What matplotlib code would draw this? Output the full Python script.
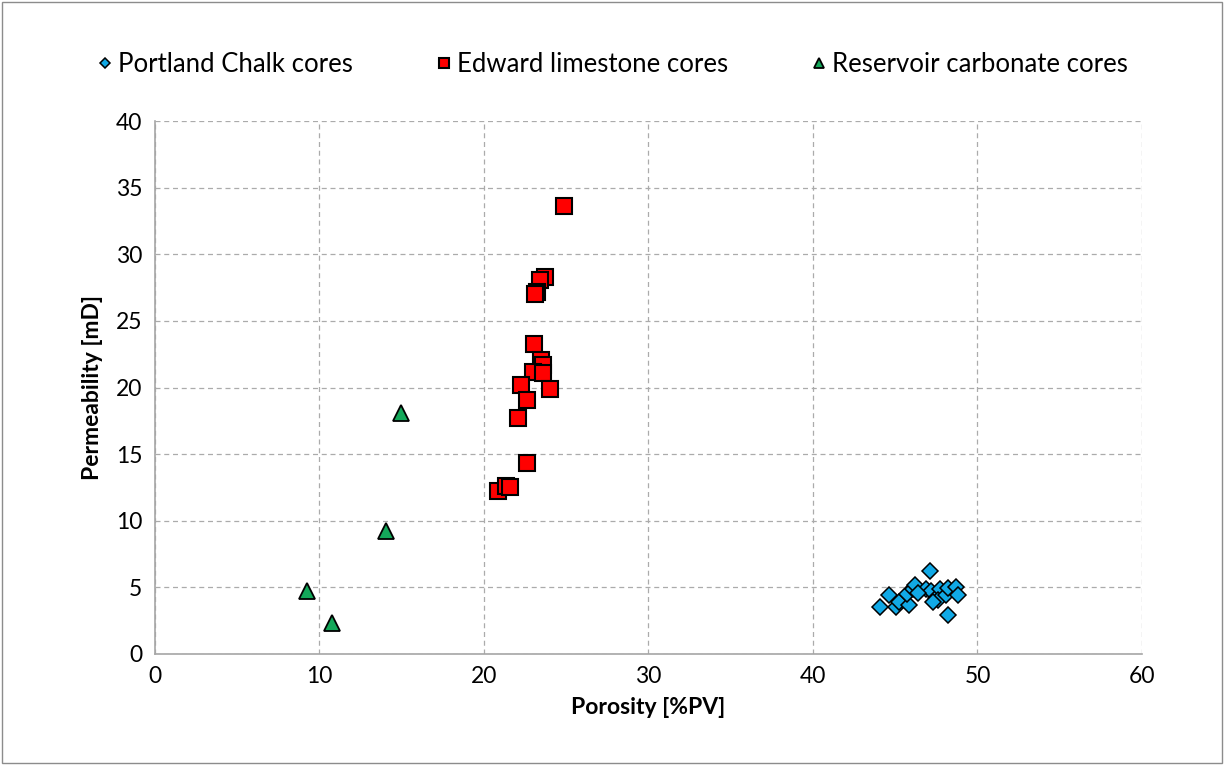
import matplotlib
matplotlib.use("Agg")
import matplotlib.pyplot as plt

plt.rcParams['font.family'] = ['Lato', 'DejaVu Sans']

# Porosity [%PV] / permeability [mD] per core
chalk_poro = [44.1, 44.6, 45.05, 45.25, 45.85, 45.7, 46.1, 46.2, 47.1, 46.9,
              47.2, 47.5, 47.7, 47.6, 48.1, 48.2, 48.2, 48.7, 48.8, 46.4, 47.3]
chalk_perm = [3.55, 4.4, 3.55, 3.9, 3.7, 4.5, 4.9, 5.2, 6.2, 4.9,
              4.7, 4.2, 4.9, 4.05, 4.4, 4.95, 2.9, 5.05, 4.4, 4.55, 3.9]

edward_poro = [24.85, 23.7, 23.4, 23.2, 23.1, 23.06, 23.45, 23.57, 22.96,
               23.6, 24.0, 22.23, 22.63, 22.05, 22.63, 20.87, 21.34, 21.6]
edward_perm = [33.6, 28.3, 28.1, 27.2, 27.0, 23.3, 22.1, 21.7, 21.2,
               21.07, 19.9, 20.2, 19.1, 17.7, 14.3, 12.25, 12.6, 12.55]

reservoir_poro = [9.24, 10.76, 14.04, 14.95]
reservoir_perm = [4.73, 2.33, 9.23, 18.09]

fig = plt.figure(figsize=(12.24, 7.65), dpi=100)
ax = fig.add_axes([0.1266, 0.1451, 0.8064, 0.6967])

ax.plot(chalk_poro, chalk_perm, linestyle='none', marker='D', markersize=8.5,
        markerfacecolor='#11A9E6', markeredgecolor='black', markeredgewidth=1.1,
        label='Portland Chalk cores', zorder=3)
ax.plot(edward_poro, edward_perm, linestyle='none', marker='s', markersize=11.5,
        markerfacecolor='#FF0000', markeredgecolor='black', markeredgewidth=1.5,
        label='Edward limestone cores', zorder=3)
ax.plot(reservoir_poro, reservoir_perm, linestyle='none', marker='^', markersize=12,
        markerfacecolor='#14A85A', markeredgecolor='black', markeredgewidth=1.3,
        label='Reservoir carbonate cores', zorder=3)

ax.set_xlim(0, 60)
ax.set_ylim(0, 40)
ax.set_xticks(range(0, 61, 10))
ax.set_yticks(range(0, 41, 5))
ax.grid(True, color='#ABABAB', linestyle=(0, (4, 3)), linewidth=0.9)
ax.set_axisbelow(True)
ax.tick_params(length=0, labelsize=16.5, pad=9)

for side in ['top', 'right']:
    ax.spines[side].set_visible(False)
for side in ['left', 'bottom']:
    ax.spines[side].set_color('#A6A6A6')
    ax.spines[side].set_linewidth(1.2)

ax.set_xlabel('Porosity [%PV]', fontsize=16.5, fontweight='bold', labelpad=7)
ax.set_ylabel('Permeability [mD]', fontsize=16.5, fontweight='bold', labelpad=9)

fig.legend(loc='center', bbox_to_anchor=(0.5, 0.916), ncol=3, frameon=False,
           fontsize=18.5, markerscale=0.6, handletextpad=0.15, columnspacing=3.2,
           handlelength=0.7)

# thin outer frame around the chart area
fig.patches.append(plt.Rectangle((0.002, 0.002), 0.996, 0.996, transform=fig.transFigure,
                                 fill=False, edgecolor='#8C8C8C', linewidth=1.0))

fig.savefig('out.png', dpi=100)
